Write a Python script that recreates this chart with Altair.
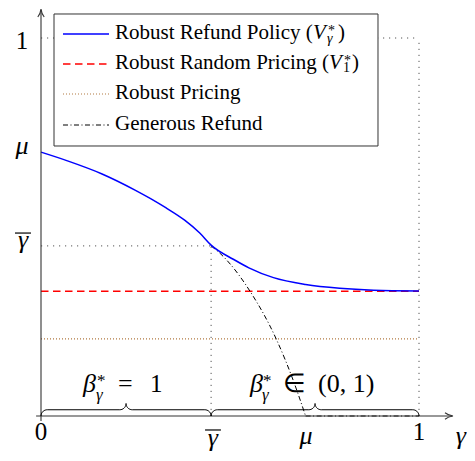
import altair as alt
import pandas as pd
import numpy as np

# ---------------- values ----------------
gamma_bar = 0.45
mu = 0.70
v1_star = 0.33            # Robust Random Pricing level
robust_pricing = 0.204    # Robust Pricing level

refund_x = [0.0, 0.07, 0.16, 0.25, 0.29, 0.33, 0.38, 0.42, 0.45, 0.51, 0.55, 0.615, 0.70, 0.79, 0.88, 1.0]
refund_y = [0.698, 0.675, 0.641, 0.597, 0.575, 0.551, 0.518, 0.484, 0.452, 0.414, 0.392, 0.366, 0.348, 0.338, 0.333, 0.331]

generous_x = [0.45, 0.474, 0.553, 0.624, 0.667, 0.70]
generous_y = [0.45, 0.43, 0.33, 0.20, 0.095, 0.0]
generous_flat_x = [0.70, 1.0]
generous_flat_y = [0.0, 0.0]

legend_labels = ["Robust Refund Policy (", "Robust Random Pricing (", "Robust Pricing", "Generous Refund"]

FONT = "Liberation Serif"
W, H = 459, 445
PX = 378.0
X_DOMAIN = [-33 / PX, -33 / PX + W / PX]
Y_DOMAIN = [408 / PX - H / PX, 408 / PX]


def X(f="x"):
    return alt.X(f, type="quantitative", scale=alt.Scale(domain=X_DOMAIN, nice=False, zero=False), axis=None)


def Y(f="y"):
    return alt.Y(f, type="quantitative", scale=alt.Scale(domain=Y_DOMAIN, nice=False, zero=False), axis=None)


def seg_chart(df, **style):
    return alt.Chart(df).mark_rule(**style).encode(x=X("x"), x2=alt.X2("x2"), y=Y("y"), y2=alt.Y2("y2"))


# ---------------- guide lines ----------------
guides = pd.DataFrame({
    "x": [0, 1, 0, gamma_bar], "x2": [1, 1, gamma_bar, gamma_bar],
    "y": [1, 0, gamma_bar, 0], "y2": [1, 1, gamma_bar, gamma_bar],
})
guide_layer = seg_chart(guides, color="#555555", strokeDash=[1.2, 4.8], strokeWidth=1)

pricing_layer = seg_chart(pd.DataFrame({"x": [0], "x2": [1], "y": [robust_pricing], "y2": [robust_pricing]}),
                          color="#b07840", strokeDash=[1, 2], strokeWidth=1.1)
random_layer = seg_chart(pd.DataFrame({"x": [0], "x2": [1], "y": [v1_star], "y2": [v1_star]}),
                         color="#ff0000", strokeDash=[7.5, 4.5], strokeWidth=1.3)

gen_df = pd.DataFrame({"x": generous_x, "y": generous_y, "i": range(len(generous_x))})
gen_layer = alt.Chart(gen_df).mark_line(color="black", strokeWidth=1, strokeDash=[5, 2.5, 1, 2.5],
                                        interpolate="monotone").encode(x=X(), y=Y(), order="i:Q")
genflat_df = pd.DataFrame({"x": generous_flat_x, "y": generous_flat_y, "i": range(2)})
genflat_layer = alt.Chart(genflat_df).mark_line(color="black", strokeWidth=1.1, strokeDash=[5, 2.5, 1, 2.5]
                                                ).encode(x=X(), y=Y(), order="i:Q")

ref_df = pd.DataFrame({"x": refund_x, "y": refund_y, "i": range(len(refund_x))})
ref_layer = alt.Chart(ref_df).mark_line(color="#0000ff", strokeWidth=1.5, interpolate="monotone"
                                        ).encode(x=X(), y=Y(), order="i:Q")

# ---------------- axes with arrows ----------------
axes = pd.DataFrame({"x": [-0.013, 0], "x2": [1.087, 0], "y": [0, -0.013], "y2": [0, 1.074]})
axis_layer = seg_chart(axes, color="#333333", strokeWidth=1.1)
ARROW = "M -1 -0.8 Q -0.2 -0.15 1 0 Q -0.2 0.15 -1 0.8"
arrx = alt.Chart(pd.DataFrame({"x": [1.0794], "y": [0]})).mark_point(
    shape=ARROW, size=64, filled=False, color="#333333", strokeWidth=1.1, opacity=1).encode(x=X(), y=Y())
arry = alt.Chart(pd.DataFrame({"x": [0], "y": [1.0661]})).mark_point(
    shape=ARROW, size=64, filled=False, color="#333333", strokeWidth=1.1, opacity=1, angle=270).encode(x=X(), y=Y())


# ---------------- braces ----------------
def brace(x0, x1, r, bid):
    xm = (x0 + x1) / 2
    t = np.linspace(0, np.pi / 2, 10)
    pts = []
    pts += list(zip(x0 + r - r * np.cos(t), r * np.sin(t)))
    pts += list(zip(xm - r + r * np.sin(t), 2 * r - r * np.cos(t)))
    pts += list(zip(xm + r - r * np.sin(t[::-1]), 2 * r - r * np.cos(t[::-1])))
    pts += list(zip(x1 - r + r * np.cos(t[::-1]), r * np.sin(t[::-1])))
    return pd.DataFrame({"x": [p[0] for p in pts], "y": [p[1] for p in pts], "i": range(len(pts)), "b": bid})


br_df = pd.concat([brace(0, gamma_bar, 0.0165, "a"), brace(gamma_bar, 1, 0.0165, "b")])
brace_layer = alt.Chart(br_df).mark_line(color="black", strokeWidth=1).encode(
    x=X(), y=Y(), order="i:Q", detail="b:N")

# ---------------- legend ----------------
leg_box = alt.Chart(pd.DataFrame({"x": [0.0344], "x2": [0.8915], "y": [0.7143], "y2": [1.0635]})).mark_rect(
    fill="white", stroke="#333333", strokeWidth=1).encode(x=X("x"), x2=alt.X2("x2"), y=Y("y"), y2=alt.Y2("y2"))
row_y = [1.0106, 0.9312, 0.8519, 0.7698]
lx0, lx1 = 0.0582, 0.1799
leg_lines = [
    seg_chart(pd.DataFrame({"x": [lx0], "x2": [lx1], "y": [row_y[0]], "y2": [row_y[0]]}), color="#0000ff", strokeWidth=1.5),
    seg_chart(pd.DataFrame({"x": [lx0], "x2": [lx1], "y": [row_y[1]], "y2": [row_y[1]]}), color="#ff0000",
              strokeDash=[7.5, 4.5], strokeWidth=1.3),
    seg_chart(pd.DataFrame({"x": [lx0], "x2": [lx1], "y": [row_y[2]], "y2": [row_y[2]]}), color="#b07840",
              strokeDash=[1, 2], strokeWidth=1.1),
    seg_chart(pd.DataFrame({"x": [lx0], "x2": [lx1], "y": [row_y[3]], "y2": [row_y[3]]}), color="black",
              strokeDash=[5, 2.5, 1, 2.5], strokeWidth=1),
]

# ---------------- text ----------------
# (text, x, y, size, italic, align)
base = [0.9974, 0.9180, 0.8386, 0.7566]
texts = [
    # legend
    (legend_labels[0], 0.1958, base[0], 21, False, "left"),
    ("V", 0.7196, base[0], 21, True, "left"),
    ("*", 0.7593, 1.0079, 14, False, "left"),
    ("γ", 0.7566, 0.9868, 14, True, "left"),
    (")", 0.7857, base[0], 21, False, "left"),
    (legend_labels[1], 0.1958, base[1], 21, False, "left"),
    ("V", 0.7619, base[1], 21, True, "left"),
    ("*", 0.8016, 0.9286, 14, False, "left"),
    ("1", 0.7989, 0.9101, 14, False, "left"),
    (")", 0.8228, base[1], 21, False, "left"),
    (legend_labels[2], 0.1958, base[2], 21, False, "left"),
    (legend_labels[3], 0.1958, base[3], 21, False, "left"),
    # x tick labels
    ("0", 0.0, -0.0635, 25, False, "center"),
    ("1", 1.0, -0.0635, 25, False, "center"),
    ("γ", 0.455, -0.080, 26, True, "center"),
    ("μ", 0.701, -0.074, 26, True, "center"),
    ("γ", 1.111, -0.074, 26, True, "center"),
    # y tick labels
    ("1", -0.0503, 0.971, 25, False, "center"),
    ("μ", -0.0503, 0.693, 26, True, "center"),
    ("γ", -0.0476, 0.444, 26, True, "center"),
    # beta annotations
    ("β", 0.1111, 0.0635, 26, True, "left"),
    ("*", 0.1481, 0.0794, 17, False, "left"),
    ("γ", 0.1455, 0.0423, 17, True, "left"),
    ("=", 0.2037, 0.0635, 26, False, "left"),
    ("1", 0.2884, 0.0635, 25, False, "left"),
    ("β", 0.5529, 0.0635, 26, True, "left"),
    ("*", 0.5873, 0.0794, 17, False, "left"),
    ("γ", 0.5847, 0.0423, 17, True, "left"),
    ("∈", 0.6402, 0.0635, 26, False, "left"),
    ("(0, 1)", 0.7328, 0.0635, 26, False, "left"),
]
tdf = pd.DataFrame(texts, columns=["t", "x", "y", "s", "it", "al"])
text_layers = []
for it in [False, True]:
    for al in ["left", "center"]:
        sub = tdf[(tdf.it == it) & (tdf.al == al)]
        if len(sub) == 0:
            continue
        kw = dict(font=FONT, align=al, baseline="alphabetic", color="black")
        if it:
            kw["fontStyle"] = "italic"
        text_layers.append(alt.Chart(sub).mark_text(**kw).encode(
            x=X(), y=Y(), text="t:N", size=alt.Size("s:Q", scale=None)))

bars = pd.DataFrame({"x": [0.434, -0.0688], "x2": [0.476, -0.0265], "y": [-0.037, 0.484], "y2": [-0.037, 0.484]})
bar_layer = seg_chart(bars, color="black", strokeWidth=1.2)

chart = alt.layer(
    guide_layer, pricing_layer, random_layer, gen_layer, genflat_layer, ref_layer,
    axis_layer, arrx, arry, brace_layer, leg_box, *leg_lines, *text_layers, bar_layer
).properties(
    width=W, height=H, padding=0, autosize=alt.AutoSizeParams(type="none")
).configure_view(stroke=None)

chart.save("out.html", embed_options={"renderer": "svg", "actions": False})
